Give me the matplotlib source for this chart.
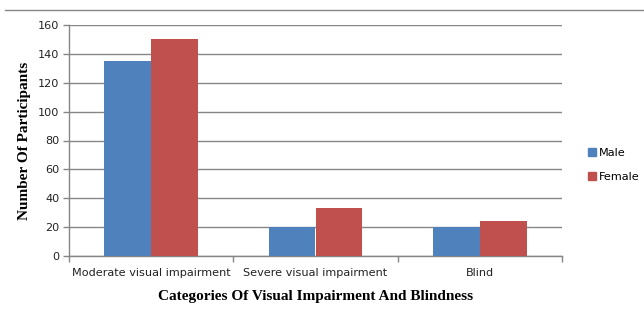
import matplotlib
matplotlib.use("Agg")
import matplotlib.pyplot as plt
import numpy as np
from matplotlib.lines import Line2D
from matplotlib.patches import Patch

categories = ["Moderate visual impairment", "Severe visual impairment", "Blind"]
male = [135, 20, 20]
female = [150, 33, 24]
yticks = [0, 20, 40, 60, 80, 100, 120, 140, 160]

blue = "#4F81BD"
red = "#C0504D"
grid_c = "#868686"

fig = plt.figure(figsize=(6.44, 3.15), dpi=100)
ax = fig.add_axes([69/644, 59/315, (562-69)/644, (256-25)/315])

x = np.arange(len(categories))
w = 0.285
ax.bar(x - w/2, male, width=w, color=blue, label="Male", zorder=3)
ax.bar(x + w/2, female, width=w, color=red, label="Female", zorder=3)

ax.set_xlim(-0.5, len(categories) - 0.5)
ax.set_ylim(0, 160)
ax.set_yticks(yticks)
ax.yaxis.grid(True, color=grid_c, linewidth=1.0, zorder=0)
ax.set_axisbelow(True)

ax.set_xticks(x)
ax.set_xticklabels(categories, fontsize=8.1, family="DejaVu Sans", color="#222222")
ax.tick_params(axis="x", length=0, pad=9)
ax.set_xticks(np.arange(-0.5, len(categories)), minor=True)
ax.tick_params(axis="x", which="minor", length=4, color=grid_c, width=1)
ax.tick_params(axis="y", length=4, color=grid_c, width=1, labelsize=8.1, pad=3, labelcolor="#222222")

for s in ["top", "right"]:
    ax.spines[s].set_visible(False)
for s in ["left", "bottom"]:
    ax.spines[s].set_color(grid_c)
    ax.spines[s].set_linewidth(1.0)

ax.set_xlabel("Categories Of Visual Impairment And Blindness", family="Liberation Serif",
              fontweight="bold", fontsize=11, labelpad=8)
ax.set_ylabel("Number Of Participants", family="Liberation Serif",
              fontweight="bold", fontsize=11, labelpad=5)

handles = [Patch(color=blue, label="Male"), Patch(color=red, label="Female")]
fig.legend(handles=handles, loc="center left", bbox_to_anchor=(578/644, 1 - 165/315),
           frameon=False, fontsize=8.1, handlelength=0.7, handleheight=0.7,
           handletextpad=0.3, labelspacing=1.3)

fig.add_artist(Line2D([5/644, 1.0], [1 - 10/315, 1 - 10/315], color=grid_c, linewidth=1.0))

fig.savefig("out.png", dpi=100)
